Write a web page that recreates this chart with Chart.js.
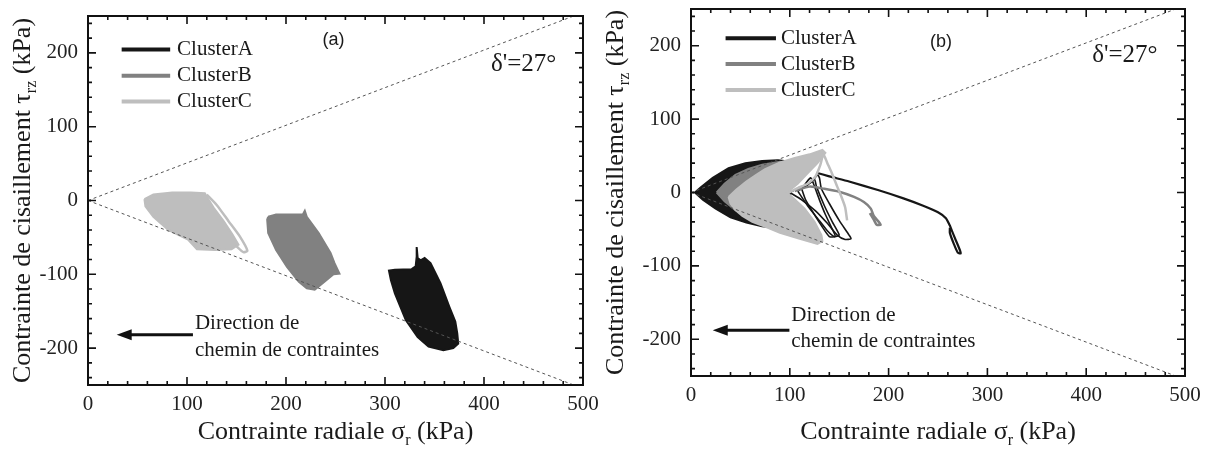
<!DOCTYPE html>
<html>
<head>
<meta charset="utf-8">
<script src="https://cdn.jsdelivr.net/npm/chart.js@4.4.1/dist/chart.umd.min.js"></script>
<style>
  body { margin: 0; background: #fff; }
  #wrap { position: relative; width: 1214px; height: 453px; overflow: hidden; }
  #wrap canvas { position: absolute; top: 0; }
</style>
</head>
<body>
<div id="wrap">
  <canvas id="chartA" width="607" height="453" style="left:0"></canvas>
  <canvas id="chartB" width="624" height="453" style="left:590px"></canvas>
</div>
<script>
// axes
const xTicks = [0, 100, 200, 300, 400, 500];
const yTicks = [-200, -100, 0, 100, 200];
const clusterLabels = ['ClusterA', 'ClusterB', 'ClusterC'];
const clusterColors = ['#161616', '#818181', '#bebebe'];

// δ'=27° lines, from the origin up to the frame  [σr, τrz]
const envUpper = [[0, 0], [490.6, 250]];
const envLower = [[0, 0], [490.6, -250]];

// (a) outlines of the three clusters  [σr, τrz] in kPa
const aOutlineA = [[332, -63], [333, -78], [336, -81], [340, -78], [346, -85], [356, -112], [365, -144], [371, -164],
  [373, -180], [374, -194], [369, -200], [359, -203], [344, -198], [333, -185], [321, -162], [310, -126],
  [306, -108], [304, -95], [310, -94], [327, -93], [331, -89], [332, -76], [332, -63]];
const aOutlineB = [[182, -22], [190, -19], [217, -19], [219, -14], [221, -22], [233, -44], [245, -71], [249, -85],
  [254, -99], [248, -100], [237, -112], [229, -121], [221, -119], [213, -110], [201, -90], [190, -67],
  [182, -44], [181, -26], [182, -22]];
const aOutlineC = [[57, 2], [58, -8], [66, -22], [81, -40], [101, -53], [110, -66], [128, -67], [145, -66],
  [152, -60], [146, -46], [137, -28], [127, -10], [121, 3], [118, 10], [104, 11], [85, 11], [66, 8], [57, 2]];
const aLoopC = [[120, 8], [130, -6], [142, -28], [153, -48], [161, -68], [157, -70], [150, -62]];

// (b) outlines and loose paths
const bOutlineA = [[4, 0], [10, 7], [22, 20], [38, 33], [55, 40], [72, 43], [88, 44], [100, 42], [100, -47],
  [86, -48], [72, -46], [56, -41], [40, -34], [25, -22], [12, -10], [4, 0]];
const bOutlineB = [[26, 0], [34, 12], [45, 24], [58, 32], [72, 38], [90, 42], [100, 40], [100, -46], [88, -46],
  [72, -40], [58, -33], [45, -24], [34, -12], [26, 0]];
const bOutlineC = [[38, -6], [46, 4], [56, 15], [66, 24], [75, 32], [90, 41], [105, 47], [120, 52], [133, 58],
  [136, 54], [128, 40], [118, 26], [108, 12], [99, 2], [97, 0], [104, -8], [115, -22], [125, -40], [132, -58],
  [133, -66], [128, -70], [110, -63], [90, -55], [76, -47], [62, -40], [52, -32], [45, -24], [40, -15], [38, -6]];
const bLoop1A = [[100, 0], [112, 8], [122, 14], [128, 24], [130, 20], [132, 5], [140, -15], [150, -38], [160, -58],
  [162, -63], [156, -64], [148, -58], [138, -42], [126, -25], [112, -10], [100, 0]];
const bLoop2A = [[108, 2], [118, 10], [125, 18], [127, 8], [135, -18], [143, -40], [150, -58], [145, -60],
  [138, -52], [128, -35], [118, -18], [108, 2]];
const bLoop3A = [[112, 5], [121, 20], [124, 12], [130, -10], [136, -30], [143, -50], [146, -60], [140, -60],
  [132, -45], [124, -28], [116, -10], [112, 5]];
const bTailA = [[127, 27], [140, 22], [160, 15], [190, 3], [215, -8], [235, -18], [250, -27], [258, -35],
  [262, -45], [264, -52], [268, -65], [272, -78], [273, -83], [270, -82], [266, -70], [262, -55], [262, -48]];
const bTailB = [[105, 2], [120, 8], [135, 5], [150, 1], [165, -6], [175, -13], [182, -22], [185, -32],
  [190, -40], [192, -44], [188, -44], [185, -37], [181, -28]];
const bTailC = [[96, -2], [108, 6], [118, 12], [126, 22], [131, 38], [134, 52], [138, 40], [143, 25], [148, 8],
  [152, -5], [156, -20], [158, -38]];

const xTitle = [['Contrainte radiale σ', 0], ['r', 1], [' (kPa)', 0]];
const yTitle = [['Contrainte de cisaillement τ', 0], ['rz', 1], [' (kPa)', 0]];

function pts(arr) {
  return arr.map(p => ({x: p[0], y: p[1]}));
}

function blob(arr, color, order) {
  return {data: pts(arr), showLine: true, fill: 'shape', backgroundColor: color, borderColor: color,
    borderWidth: 2, pointRadius: 0, tension: 0, order: order};
}

function path(arr, color, width, order) {
  return {data: pts(arr), showLine: true, fill: false, borderColor: color, borderWidth: width,
    pointRadius: 0, tension: 0.2, order: order};
}

function envelope(arr) {
  return {data: pts(arr), showLine: true, fill: false, borderColor: '#555', borderWidth: 1,
    borderDash: [3, 3], pointRadius: 0, order: 0};
}

// box, inward ticks on all four sides
const framePlugin = {
  id: 'frame',
  afterDatasetsDraw(chart) {
    const {ctx, chartArea: a, scales: {x, y}} = chart;
    ctx.save();
    ctx.strokeStyle = '#111';
    ctx.lineWidth = 2;
    ctx.strokeRect(a.left, a.top, a.right - a.left, a.bottom - a.top);
    ctx.lineWidth = 1.6;
    ctx.beginPath();
    for (let v = x.min; v <= x.max; v += 20) {
      const p = x.getPixelForValue(v);
      const len = v % 100 === 0 ? 8 : 4;
      ctx.moveTo(p, a.bottom); ctx.lineTo(p, a.bottom - len);
      ctx.moveTo(p, a.top); ctx.lineTo(p, a.top + len);
    }
    for (let v = -240; v <= 240; v += 20) {
      const p = y.getPixelForValue(v);
      const len = v % 100 === 0 ? 8 : 4;
      ctx.moveTo(a.left, p); ctx.lineTo(a.left + len, p);
      ctx.moveTo(a.right, p); ctx.lineTo(a.right - len, p);
    }
    ctx.stroke();
    ctx.restore();
  }
};

function rich(ctx, parts, cx, cy, rot) {
  const fonts = ['26px "Liberation Serif"', '16px "Liberation Serif"'];
  ctx.save();
  ctx.translate(cx, cy);
  ctx.rotate(rot);
  ctx.textAlign = 'left';
  ctx.textBaseline = 'middle';
  let w = 0;
  parts.forEach(([t, s]) => { ctx.font = fonts[s]; w += ctx.measureText(t).width; });
  let px = -w / 2;
  parts.forEach(([t, s]) => {
    ctx.font = fonts[s];
    ctx.fillText(t, px, s ? 9 : 0);
    px += ctx.measureText(t).width;
  });
  ctx.restore();
}

// texts, legend and arrow, placed in data units
function notesPlugin(n) {
  return {
    id: 'notes',
    afterDraw(chart) {
      const {ctx, chartArea: a, scales: {x, y}} = chart;
      const X = v => x.getPixelForValue(v);
      const Y = v => y.getPixelForValue(v);
      ctx.save();
      ctx.fillStyle = '#1a1a1a';
      ctx.textBaseline = 'middle';

      ctx.font = '18px "Liberation Sans"';
      ctx.textAlign = 'center';
      ctx.fillText(n.tag, X(n.tagAt[0]), Y(n.tagAt[1]));

      ctx.font = '25px "Liberation Serif"';
      ctx.textAlign = 'left';
      ctx.fillText("δ'=27°", X(n.angleAt[0]), Y(n.angleAt[1]));

      ctx.font = '21px "Liberation Serif"';
      clusterLabels.forEach((lab, i) => {
        const yy = Y(n.legendY[i]);
        ctx.strokeStyle = clusterColors[i];
        ctx.lineWidth = 4;
        ctx.beginPath();
        ctx.moveTo(X(n.legendX[0]), yy);
        ctx.lineTo(X(n.legendX[1]), yy);
        ctx.stroke();
        ctx.fillText(lab, X(n.legendX[2]), yy);
      });

      // stress path direction
      const ay = Y(n.arrow[2]);
      const tip = X(n.arrow[1]);
      ctx.strokeStyle = '#111';
      ctx.lineWidth = 3;
      ctx.beginPath();
      ctx.moveTo(X(n.arrow[0]), ay);
      ctx.lineTo(tip + 10, ay);
      ctx.stroke();
      ctx.fillStyle = '#111';
      ctx.beginPath();
      ctx.moveTo(tip, ay);
      ctx.lineTo(tip + 15, ay - 5.5);
      ctx.lineTo(tip + 15, ay + 5.5);
      ctx.closePath();
      ctx.fill();

      ctx.fillStyle = '#1a1a1a';
      ctx.fillText('Direction de', X(n.dirAt[0]), Y(n.dirAt[1]));
      ctx.fillText('chemin de contraintes', X(n.dirAt[0]), Y(n.dirAt[2]));

      rich(ctx, xTitle, (a.left + a.right) / 2, a.bottom + n.xTitleGap, 0);
      rich(ctx, yTitle, a.left - n.yTitleGap, (a.top + a.bottom) / 2, -Math.PI / 2);
      ctx.restore();
    }
  };
}

function makeChart(id, datasets, area, notes) {
  const tickFont = {family: 'Liberation Serif', size: 21};
  return new Chart(document.getElementById(id), {
    type: 'scatter',
    data: {datasets: datasets},
    options: {
      responsive: false,
      animation: false,
      layout: {padding: {left: 0, top: area.top, right: area.right, bottom: 0}},
      plugins: {legend: {display: false}, tooltip: {enabled: false}},
      scales: {
        x: {
          type: 'linear', min: 0, max: 500,
          afterBuildTicks: s => { s.ticks = xTicks.map(v => ({value: v})); },
          afterFit: s => { s.height = area.xHeight; s.paddingLeft = 0; s.paddingRight = 0; },
          grid: {display: false, drawTicks: false},
          border: {display: false},
          ticks: {padding: 7, color: '#222', font: tickFont, maxRotation: 0}
        },
        y: {
          type: 'linear', min: -250, max: 250,
          afterBuildTicks: s => { s.ticks = yTicks.map(v => ({value: v})); },
          afterFit: s => { s.width = area.yWidth; s.paddingTop = 0; s.paddingBottom = 0; },
          grid: {display: false, drawTicks: false},
          border: {display: false},
          ticks: {padding: 10, color: '#222', font: tickFont}
        }
      }
    },
    plugins: [framePlugin, notesPlugin(notes)]
  });
}

makeChart('chartA', [
  envelope(envUpper),
  envelope(envLower),
  path(aLoopC, clusterColors[2], 2.5, 1),
  blob(aOutlineC, clusterColors[2], 2),
  blob(aOutlineB, clusterColors[1], 3),
  blob(aOutlineA, clusterColors[0], 4)
], {top: 16, right: 24, xHeight: 68, yWidth: 88}, {
  tag: '(a)', tagAt: [248, 218],
  angleAt: [407, 184],
  legendX: [34, 83, 90], legendY: [204.5, 169, 134],
  arrow: [106, 29, -182],
  dirAt: [108, -166, -203],
  xTitleGap: 47, yTitleGap: 65
});

makeChart('chartB', [
  envelope(envUpper),
  envelope(envLower),
  path(bTailC, clusterColors[2], 2.5, 1),
  path(bTailB, clusterColors[1], 2.5, 2),
  path(bTailA, clusterColors[0], 2.2, 3),
  path(bLoop1A, clusterColors[0], 1.6, 3),
  path(bLoop2A, clusterColors[0], 1.6, 3),
  path(bLoop3A, clusterColors[0], 1.6, 3),
  blob(bOutlineC, clusterColors[2], 4),
  blob(bOutlineB, clusterColors[1], 5),
  blob(bOutlineA, clusterColors[0], 6)
], {top: 9, right: 29, xHeight: 77, yWidth: 101}, {
  tag: '(b)', tagAt: [253, 205],
  angleAt: [406, 187],
  legendX: [35, 86, 91], legendY: [210, 175, 139.5],
  arrow: [99.6, 22, -187.7],
  dirAt: [101.5, -167, -203],
  xTitleGap: 56, yTitleGap: 75
});
</script>
</body>
</html>
